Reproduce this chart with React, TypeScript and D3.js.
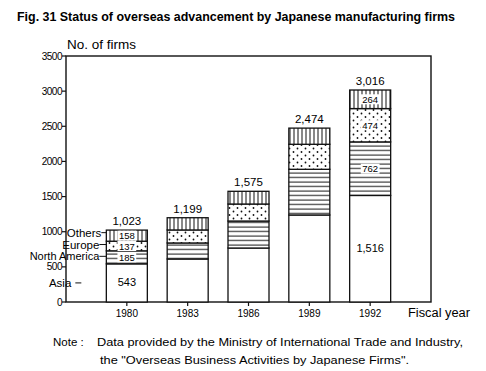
import React from 'react'
import * as d3 from 'd3'

// values (number of firms)
const years = ['1980', '1983', '1986', '1989', '1992']
const asia = [543, 612, 768, 1238, 1516]
const northAmerica = [185, 228, 384, 650, 762]
const europe = [137, 185, 242, 356, 474]
const others = [158, 174, 181, 230, 264]
const yTicks = [0, 500, 1000, 1500, 2000, 2500, 3000, 3500]
const regions = ['Asia', 'North America', 'Europe', 'Others']
const labelledYears = ['1980', '1992']

const font = 'Liberation Sans, Arial, sans-serif'

function App() {
  const W = 486
  const H = 371
  const margin = { left: 66, right: 55, top: 56, bottom: 69 }
  const x0 = margin.left
  const x1 = W - margin.right
  const yBottom = H - margin.bottom

  const x = d3.scalePoint().domain(years).range([x0, x1]).padding(1)
  const y = d3.scaleLinear().domain([0, 3500]).range([yBottom, margin.top])
  const barW = 41
  const fmt = d3.format(',')

  const rows = years.map((yr, i) => ({
    year: yr,
    Asia: asia[i],
    'North America': northAmerica[i],
    Europe: europe[i],
    Others: others[i],
  }))
  const stacked = d3.stack().keys(regions)(rows as any)
  const fills: Record<string, string> = {
    Asia: '#fff',
    'North America': 'url(#hlines)',
    Europe: 'url(#dots)',
    Others: 'url(#vlines)',
  }

  // legend labels at the left of the 1980 bar
  const firstX = (x('1980') as number) - barW / 2
  const mid = (k: number) => {
    const s = stacked[k][0]
    return (y(s[0]) + y(s[1])) / 2
  }
  const othersY = mid(3) - 3
  const europeY = mid(2) - 1.5
  const naY = mid(1) - 1

  return (
    <svg width={W} height={H} style={{ position: 'absolute', left: 0, top: 0, background: '#fff' }}
      fontFamily={font}>
      <defs>
        <pattern id="hlines" width="6" height="4.5" patternUnits="userSpaceOnUse">
          <rect width="6" height="4.5" fill="#fff" />
          <line x1="0" x2="6" y1="2" y2="2" stroke="#111" strokeWidth="1" />
        </pattern>
        <pattern id="vlines" width="4" height="6" patternUnits="userSpaceOnUse">
          <rect width="4" height="6" fill="#fff" />
          <line x1="2" x2="2" y1="0" y2="6" stroke="#111" strokeWidth="1" />
        </pattern>
        <pattern id="dots" width="8" height="7" patternUnits="userSpaceOnUse">
          <rect width="8" height="7" fill="#fff" />
          <circle cx="1.5" cy="1.5" r="0.9" fill="#111" />
          <circle cx="5.5" cy="5" r="0.9" fill="#111" />
        </pattern>
      </defs>

      <text x={17} y={21} fontSize={12} fontWeight="bold" textLength={438}
        fontFamily="Liberation Sans Narrow, Liberation Sans, Arial, sans-serif"
        lengthAdjust="spacingAndGlyphs">Fig. 31 Status of overseas advancement by Japanese manufacturing firms</text>

      <text x={67} y={49} fontSize={13} textLength={69} lengthAdjust="spacingAndGlyphs">No. of firms</text>

      {/* frame */}
      <rect x={x0} y={margin.top} width={x1 - x0} height={yBottom - margin.top}
        fill="none" stroke="#111" strokeWidth={1.4} />

      {/* y axis ticks */}
      {yTicks.map(t => (
        <g key={t}>
          <line x1={x0 - 4} x2={x0} y1={y(t)} y2={y(t)} stroke="#111" strokeWidth={1.2} />
          <text x={x0 - 4} y={y(t) + 3.5} fontSize={10} textAnchor="end" letterSpacing={-0.5}>{t}</text>
        </g>
      ))}

      {/* x axis ticks */}
      {years.map(yr => (
        <g key={yr}>
          <line x1={x(yr)} x2={x(yr)} y1={yBottom} y2={yBottom + 4} stroke="#111" strokeWidth={1.2} />
          <text x={x(yr)} y={yBottom + 15} fontSize={10} textAnchor="middle">{yr}</text>
        </g>
      ))}
      <text x={408} y={317} fontSize={12.5} textLength={62} lengthAdjust="spacingAndGlyphs">Fiscal year</text>

      {/* stacked bars */}
      {stacked.map(series => (
        <g key={series.key}>
          {series.map((d, i) => (
            <rect key={i} x={(x(years[i]) as number) - barW / 2} y={y(d[1])} width={barW}
              height={y(d[0]) - y(d[1])} fill={fills[series.key]} stroke="#111" strokeWidth={1.3} />
          ))}
        </g>
      ))}

      {/* totals */}
      {years.map((yr, i) => (
        <text key={yr} x={x(yr)} y={y(stacked[3][i][1]) - 5} fontSize={11.5} textAnchor="middle">
          {fmt(stacked[3][i][1])}
        </text>
      ))}

      {/* values inside the 1980 and 1992 bars */}
      {stacked.map((series, k) =>
        series.map((d, i) => {
          if (!labelledYears.includes(years[i])) return null
          const v = d[1] - d[0]
          const cy = (y(d[0]) + y(d[1])) / 2
          const label = fmt(v)
          const tw = label.length * 5.6
          return (
            <g key={series.key + i}>
              {k > 0 && (
                <rect x={(x(years[i]) as number) - tw / 2 - 1} y={cy - 5} width={tw + 2} height={10} fill="#fff" />
              )}
              <text x={x(years[i])} y={cy + 3.5} fontSize={k === 0 ? 11 : 9.5} textAnchor="middle">{label}</text>
            </g>
          )
        })
      )}

      {/* region labels */}
      <text x={firstX - 5} y={othersY + 4} fontSize={11.5} textAnchor="end">Others</text>
      <line x1={firstX - 5} x2={firstX} y1={othersY} y2={othersY} stroke="#111" />
      <text x={firstX - 7} y={europeY + 4} fontSize={11.5} textAnchor="end">Europe</text>
      <line x1={firstX - 7} x2={firstX} y1={europeY} y2={europeY} stroke="#111" />
      <text x={firstX - 7} y={naY + 3.5} fontSize={11} textAnchor="end">North America</text>
      <line x1={firstX - 7} x2={firstX} y1={naY} y2={naY} stroke="#111" />
      <text x={firstX - 35} y={mid(0) + 4} fontSize={11.5} textAnchor="end">Asia</text>
      <line x1={firstX - 31} x2={firstX - 25} y1={mid(0)} y2={mid(0)} stroke="#111" />

      {/* note */}
      <text x={53} y={346} fontSize={11.5}>Note :</text>
      <text x={97} y={346} fontSize={11.5} textLength={366} lengthAdjust="spacingAndGlyphs">Data provided by the Ministry of International Trade and Industry,</text>
      <text x={100} y={364} fontSize={11.5} textLength={309} lengthAdjust="spacingAndGlyphs">the "Overseas Business Activities by Japanese  Firms".</text>
    </svg>
  )
}

export default App
